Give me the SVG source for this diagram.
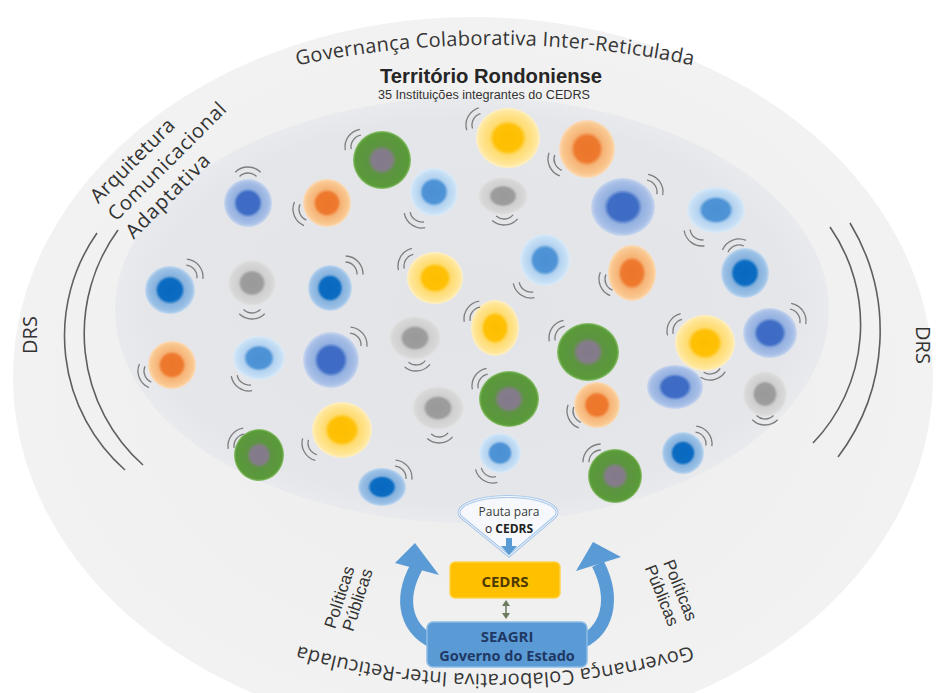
<svg xmlns="http://www.w3.org/2000/svg" width="936" height="693" viewBox="0 0 936 693">
<style>
.arc{font-family:"Open Sans","DejaVu Sans",sans-serif;font-size:20px;fill:#363636}
.lbl{font-family:"Open Sans","DejaVu Sans",sans-serif;font-size:20px;fill:#333}
.ar{font-family:"Liberation Sans",Arial,sans-serif;font-size:17px;fill:#333;text-anchor:middle}
.bx{font-family:"Open Sans","DejaVu Sans",sans-serif;font-weight:bold;text-anchor:middle}
.big{fill:none;stroke:#5f5f5f;stroke-width:1.6}
.blue{fill:none;stroke:#5b9bd5;stroke-width:13}
</style>
<defs>
<radialGradient id="gBlue"><stop offset="0" stop-color="#3d6ac4"/><stop offset=".46" stop-color="#3f6dc6"/><stop offset=".6" stop-color="#93b0e0"/><stop offset=".88" stop-color="#a9c0e7"/><stop offset="1" stop-color="#c9d7ef"/></radialGradient>
<radialGradient id="gDark"><stop offset="0" stop-color="#0868c0"/><stop offset=".46" stop-color="#0b6cc2"/><stop offset=".6" stop-color="#86b2de"/><stop offset=".88" stop-color="#9cc1e6"/><stop offset="1" stop-color="#c3daf0"/></radialGradient>
<radialGradient id="gLight"><stop offset="0" stop-color="#4a90d4"/><stop offset=".46" stop-color="#4f94d6"/><stop offset=".6" stop-color="#b2d2f0"/><stop offset=".88" stop-color="#c8e0f5"/><stop offset="1" stop-color="#dcebf8"/></radialGradient>
<radialGradient id="gOrange"><stop offset="0" stop-color="#ec7528"/><stop offset=".44" stop-color="#ee7a2f"/><stop offset=".58" stop-color="#f6b477"/><stop offset=".88" stop-color="#f9c891"/><stop offset="1" stop-color="#fcdcb8"/></radialGradient>
<radialGradient id="gYellow"><stop offset="0" stop-color="#fdbd00"/><stop offset=".44" stop-color="#ffc107"/><stop offset=".58" stop-color="#ffdc70"/><stop offset=".88" stop-color="#ffe699"/><stop offset="1" stop-color="#fff0c4"/></radialGradient>
<radialGradient id="gGrey"><stop offset="0" stop-color="#999"/><stop offset=".44" stop-color="#9d9d9d"/><stop offset=".58" stop-color="#cfcfcf"/><stop offset=".88" stop-color="#d8d8d8"/><stop offset="1" stop-color="#e4e4e4"/></radialGradient>
<radialGradient id="gGreen"><stop offset="0" stop-color="#83798c"/><stop offset=".34" stop-color="#857c8a"/><stop offset=".5" stop-color="#5c9440"/><stop offset=".92" stop-color="#5a9a3a"/><stop offset="1" stop-color="#8cc26a"/></radialGradient>
<radialGradient id="gOuter"><stop offset="0" stop-color="#ececec"/><stop offset="1" stop-color="#f2f2f2"/></radialGradient>
<radialGradient id="gInner"><stop offset="0" stop-color="#e2e4e8"/><stop offset=".9" stop-color="#e4e6ea"/><stop offset="1" stop-color="#e9eaed"/></radialGradient>
<path id="wv" d="M8.49,-8.49A12,12 0 0 1 8.49,8.49M12.73,-12.73A18,18 0 0 1 12.73,12.73" fill="none" stroke="#7d7d7d" stroke-width="1.3"/>
<path id="topArc" d="M280,69.3A500,250 0 0 1 710,69.3"/>
<path id="botArc" d="M715,638.3A500,350 0 0 1 275,638.3"/>
</defs>

<rect width="936" height="693" fill="#fff"/>
<g id="background">
<ellipse cx="473" cy="377" rx="460" ry="360" fill="url(#gOuter)"/>
<ellipse cx="472" cy="310" rx="357" ry="213" fill="url(#gInner)"/>
<path class="big" d="M97,233A179,179 0 0 0 125,470"/>
<path class="big" d="M118,230A176,176 0 0 0 143,465"/>
<path class="big" d="M850,223A209,209 0 0 1 838,457"/>
<path class="big" d="M830,227A171,171 0 0 1 813,443"/>
</g>

<g id="labels">
<text class="arc"><textPath href="#topArc" startOffset="50%" text-anchor="middle" textLength="398" lengthAdjust="spacing">Governança Colaborativa Inter-Reticulada</textPath></text>
<text class="arc"><textPath href="#botArc" startOffset="50%" text-anchor="middle" textLength="398" lengthAdjust="spacing">Governança Colaborativa Inter-Reticulada</textPath></text>
<text x="380" y="83" font-family="'Liberation Sans',Arial,sans-serif" font-weight="bold" font-size="20" fill="#262626" textLength="222" lengthAdjust="spacingAndGlyphs">Território Rondoniense</text>
<text x="378" y="99" font-family="'Liberation Sans',Arial,sans-serif" font-size="12" fill="#333" textLength="212" lengthAdjust="spacingAndGlyphs">35 Instituições integrantes do CEDRS</text>
<g transform="rotate(-45)">
<text class="lbl" x="-75" y="214" textLength="110">Arquitetura</text>
<text class="lbl" x="-75" y="239" textLength="158">Comunicacional</text>
<text class="lbl" x="-75" y="264" textLength="110">Adaptativa</text>
</g>
<text class="lbl" font-size="19" transform="rotate(-90)" x="-335" y="37" text-anchor="middle">DRS</text>
<text class="lbl" font-size="18" transform="rotate(90)" x="345" y="-916" text-anchor="middle">DRS</text>
<g transform="rotate(-72)">
<text class="ar" x="-463" y="513">Políticas</text>
<text class="ar" x="-460" y="531">Públicas</text>
</g>
<g transform="rotate(68)">
<text class="ar" x="802" y="-404">Políticas</text>
<text class="ar" x="800" y="-385">Públicas</text>
</g>
</g>

<g id="nodes">
<g id="n1"><ellipse cx="248" cy="203" rx="24" ry="24" fill="url(#gBlue)"/><use href="#wv" transform="translate(248,185) rotate(-90)"/></g>
<g id="n2"><ellipse cx="327" cy="203" rx="24" ry="24" fill="url(#gOrange)"/><use href="#wv" transform="translate(311,209) rotate(158)"/></g>
<g id="n3"><ellipse cx="382" cy="160" rx="29" ry="29" fill="url(#gGreen)"/><use href="#wv" transform="translate(363,147) rotate(215)"/></g>
<g id="n4"><ellipse cx="434" cy="192" rx="24" ry="24" fill="url(#gLight)"/><use href="#wv" transform="translate(422,210) rotate(125)"/></g>
<g id="n5"><ellipse cx="170" cy="290" rx="25" ry="24" fill="url(#gDark)"/><use href="#wv" transform="translate(185,277) rotate(-39)"/></g>
<g id="n6"><ellipse cx="252" cy="283" rx="24" ry="23" fill="url(#gGrey)"/><use href="#wv" transform="translate(252,301) rotate(90)"/></g>
<g id="n7"><ellipse cx="330" cy="288" rx="22" ry="23" fill="url(#gDark)"/><use href="#wv" transform="translate(345,274) rotate(-43)"/></g>
<g id="n8"><ellipse cx="435" cy="278" rx="28" ry="26" fill="url(#gYellow)"/><use href="#wv" transform="translate(416,266) rotate(212)"/></g>
<g id="n9"><ellipse cx="508" cy="138" rx="32" ry="30" fill="url(#gYellow)"/><use href="#wv" transform="translate(484,125) rotate(208)"/></g>
<g id="n10"><ellipse cx="587" cy="149" rx="28" ry="29" fill="url(#gOrange)"/><use href="#wv" transform="translate(566,159) rotate(155)"/></g>
<g id="n11"><ellipse cx="503" cy="196" rx="25" ry="19" fill="url(#gGrey)"/><use href="#wv" transform="translate(504,207) rotate(86)"/></g>
<g id="n12"><ellipse cx="623" cy="207" rx="32" ry="29" fill="url(#gBlue)"/><use href="#wv" transform="translate(645,192) rotate(-35)"/></g>
<g id="n13"><ellipse cx="716" cy="210" rx="29" ry="23" fill="url(#gLight)"/><use href="#wv" transform="translate(702,228) rotate(127)"/></g>
<g id="n14"><ellipse cx="545" cy="260" rx="25" ry="26" fill="url(#gLight)"/><use href="#wv" transform="translate(531,280) rotate(124)"/></g>
<g id="n15"><ellipse cx="632" cy="273" rx="24" ry="28" fill="url(#gOrange)"/><use href="#wv" transform="translate(617,279) rotate(157)"/></g>
<g id="n16"><ellipse cx="745" cy="273" rx="24" ry="25" fill="url(#gDark)"/><use href="#wv" transform="translate(739,257) rotate(248)"/></g>
<g id="n17"><ellipse cx="172" cy="365" rx="24" ry="24" fill="url(#gOrange)"/><use href="#wv" transform="translate(156,371) rotate(158)"/></g>
<g id="n18"><ellipse cx="259" cy="358" rx="26" ry="22" fill="url(#gLight)"/><use href="#wv" transform="translate(249,373) rotate(125)"/></g>
<g id="n19"><ellipse cx="331" cy="360" rx="28" ry="28" fill="url(#gBlue)"/><use href="#wv" transform="translate(349,345) rotate(-40)"/></g>
<g id="n20"><ellipse cx="415" cy="338" rx="26" ry="22" fill="url(#gGrey)"/><use href="#wv" transform="translate(416,353) rotate(84)"/></g>
<g id="n21"><ellipse cx="438" cy="408" rx="26" ry="22" fill="url(#gGrey)"/><use href="#wv" transform="translate(439,425) rotate(86)"/></g>
<g id="n22"><ellipse cx="259" cy="455" rx="25" ry="26" fill="url(#gGreen)"/><use href="#wv" transform="translate(246,446) rotate(216)"/></g>
<g id="n23"><ellipse cx="342" cy="430" rx="30" ry="28" fill="url(#gYellow)"/><use href="#wv" transform="translate(320,443) rotate(150)"/></g>
<g id="n24"><ellipse cx="382" cy="487" rx="24" ry="19" fill="url(#gDark)"/><use href="#wv" transform="translate(394,478) rotate(-40)"/></g>
<g id="n25"><ellipse cx="495" cy="328" rx="24" ry="28" fill="url(#gYellow)"/><use href="#wv" transform="translate(482,319) rotate(216)"/></g>
<g id="n26"><ellipse cx="588" cy="352" rx="31" ry="29" fill="url(#gGreen)"/><use href="#wv" transform="translate(567,338) rotate(214)"/></g>
<g id="n27"><ellipse cx="509" cy="399" rx="30" ry="28" fill="url(#gGreen)"/><use href="#wv" transform="translate(490,386) rotate(214)"/></g>
<g id="n28"><ellipse cx="597" cy="405" rx="23" ry="23" fill="url(#gOrange)"/><use href="#wv" transform="translate(585,411) rotate(155)"/></g>
<g id="n29"><ellipse cx="705" cy="343" rx="30" ry="28" fill="url(#gYellow)"/><use href="#wv" transform="translate(685,331) rotate(211)"/><use href="#wv" transform="translate(710,362) rotate(77)"/></g>
<g id="n30"><ellipse cx="770" cy="333" rx="27" ry="25" fill="url(#gBlue)"/><use href="#wv" transform="translate(788,321) rotate(-35)"/></g>
<g id="n31"><ellipse cx="675" cy="387" rx="28" ry="22" fill="url(#gBlue)"/></g>
<g id="n32"><ellipse cx="765" cy="394" rx="22" ry="23" fill="url(#gGrey)"/><use href="#wv" transform="translate(765,407) rotate(90)"/></g>
<g id="n33"><ellipse cx="500" cy="453" rx="21" ry="20" fill="url(#gLight)"/><use href="#wv" transform="translate(493,465) rotate(121)"/></g>
<g id="n34"><ellipse cx="683" cy="453" rx="21" ry="21" fill="url(#gDark)"/><use href="#wv" transform="translate(694,444) rotate(-38)"/></g>
<g id="n35"><ellipse cx="615" cy="476" rx="27" ry="27" fill="url(#gGreen)"/><use href="#wv" transform="translate(601,462) rotate(224)"/></g>
</g>

<g id="connectors">
<path class="blue" d="M440,645C405,632 398,600 417,566"/>
<polygon points="415,543 395,563 439,575" fill="#5b9bd5"/>
<path class="blue" d="M575,645C610,632 615,598 598,564"/>
<polygon points="593,542 576,571 621,557" fill="#5b9bd5"/>
<line x1="506" y1="605" x2="506" y2="614" stroke="#6c7b5c" stroke-width="1.5"/>
<polygon points="506,600 502,606 510,606" fill="#6c7b5c"/>
<polygon points="506,619 502,613 510,613" fill="#6c7b5c"/>
</g>

<g id="pauta">
<path d="M461,517A49,16 0 1 1 555,517L509,556Z" fill="#f6f8fb" stroke="#a9c8ea" stroke-width="3"/>
<path d="M461,517A49,16 0 1 1 555,517L509,556Z" fill="none" stroke="#f6f8fb" stroke-width="1"/>
<polygon points="506,538 512,538 512,546 517,546 509,555 501,546 506,546" fill="#5b9bd5"/>
<text x="509" y="516" font-family="'Open Sans','DejaVu Sans',sans-serif" font-size="12" fill="#3a3a3a" text-anchor="middle">Pauta para</text>
<text x="509" y="533" font-family="'Open Sans','DejaVu Sans',sans-serif" font-size="12" fill="#222" text-anchor="middle">o <tspan font-weight="bold">CEDRS</tspan></text>
</g>

<g id="cedrs">
<rect x="450" y="562" width="110" height="36" rx="5" fill="#ffc000" stroke="#ffd34d" stroke-width="1.5"/>
<text class="bx" x="505" y="587" font-size="15" fill="#4d3a00">CEDRS</text>
</g>

<g id="seagri">
<rect x="427" y="622" width="160" height="45" rx="6" fill="#5b9bd5" stroke="#8dbbe6" stroke-width="1.5"/>
<text class="bx" x="507" y="642" font-size="15" fill="#1f3864">SEAGRI</text>
<text class="bx" x="507" y="661" font-size="14.5" fill="#1f3864">Governo do Estado</text>
</g>
</svg>
